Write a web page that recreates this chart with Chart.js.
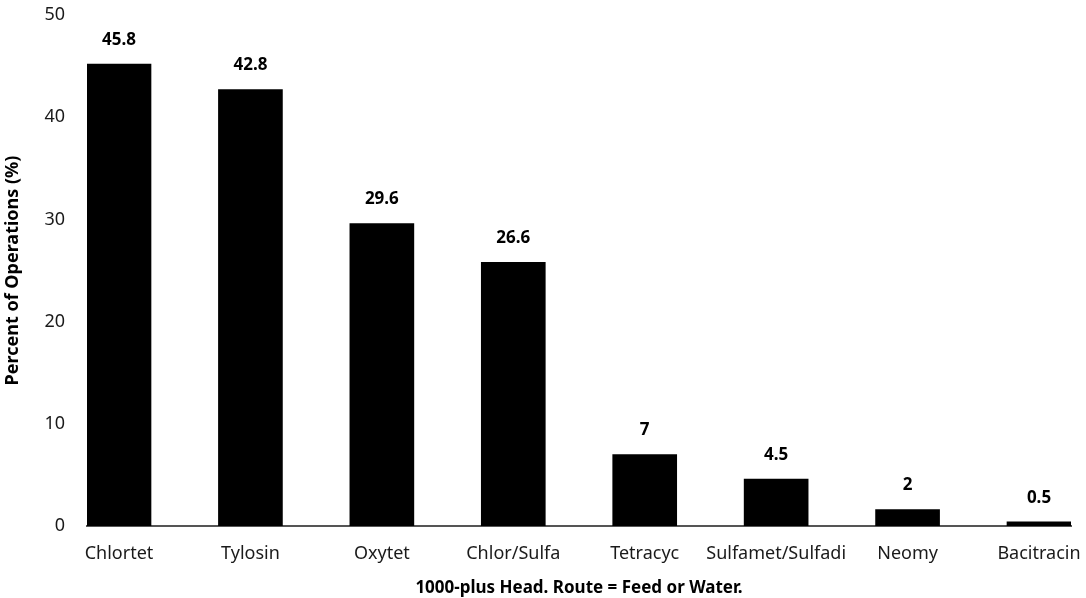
<!DOCTYPE html>
<html>
<head>
<meta charset="utf-8">
<script src="https://cdn.jsdelivr.net/npm/chart.js@4/dist/chart.umd.min.js"></script>
<style>
  html, body { margin: 0; padding: 0; background: #fff; }
  #wrap { width: 1086px; height: 598px; position: relative; }
</style>
</head>
<body>
<div id="wrap"><canvas id="c" width="1086" height="598"></canvas></div>
<script>
const categories = ["Chlortet", "Tylosin", "Oxytet", "Chlor/Sulfa", "Tetracyc", "Sulfamet/Sulfadi", "Neomy", "Bacitracin"];
const barValues = [45.2, 42.7, 29.6, 25.8, 7.0, 4.6, 1.6, 0.4];
const valueLabels = ["45.8", "42.8", "29.6", "26.6", "7", "4.5", "2", "0.5"];
const yTicks = [0, 10, 20, 30, 40, 50];
const xTitle = "1000-plus Head. Route = Feed or Water.";
const yTitle = "Percent of Operations (%)";

const FONT = "'Noto Sans', sans-serif";

const valueLabelPlugin = {
  id: 'valueLabels',
  afterDatasetsDraw(chart) {
    const ctx = chart.ctx;
    const meta = chart.getDatasetMeta(0);
    ctx.save();
    ctx.font = "bold 17px " + FONT;
    ctx.fillStyle = "#000";
    ctx.textAlign = "center";
    ctx.textBaseline = "middle";
    meta.data.forEach((el, i) => {
      ctx.fillText(valueLabels[i], el.x, el.y - 24);
    });
    ctx.restore();
  }
};

new Chart(document.getElementById('c'), {
  type: 'bar',
  data: {
    datasets: [{
      data: barValues.map((v, i) => ({ x: i, y: v })),
      backgroundColor: "#000",
      borderWidth: 0,
      barThickness: 64
    }]
  },
  options: {
    responsive: false,
    animation: false,
    layout: { padding: { left: 0, right: 15, top: 15, bottom: 0 } },
    plugins: { legend: { display: false }, tooltip: { enabled: false } },
    scales: {
      x: {
        type: 'linear',
        offset: false,
        min: -0.2435,
        max: 7.2435,
        grid: { display: false, drawTicks: false },
        border: { display: true, color: "#555", width: 2 },
        afterBuildTicks: (s) => { s.ticks = categories.map((c, i) => ({ value: i })); },
        ticks: {
          autoSkip: false,
          maxRotation: 0,
          padding: 17,
          color: "#1a1a1a",
          font: { family: FONT, size: 18 },
          callback: (v) => categories[v]
        },
        title: {
          display: true,
          text: xTitle,
          color: "#000",
          font: { family: FONT, size: 17, weight: 'bold' },
          padding: { top: 2, bottom: 0 }
        },
        afterFit: (s) => { s.height = 72; s.paddingLeft = 0; s.paddingRight = 0; }
      },
      y: {
        min: 0,
        max: 50,
        grid: { display: false, drawTicks: false },
        border: { display: false },
        afterBuildTicks: (s) => { s.ticks = yTicks.map(v => ({ value: v })); },
        ticks: {
          padding: 22,
          color: "#1a1a1a",
          font: { family: FONT, size: 18 }
        },
        title: {
          display: true,
          text: yTitle,
          color: "#000",
          font: { family: FONT, size: 18, weight: 'bold' },
          padding: { top: 2, bottom: 0 }
        },
        afterFit: (s) => { s.width = 87; s.paddingTop = 0; s.paddingBottom = 0; }
      }
    }
  },
  plugins: [valueLabelPlugin]
});
</script>
</body>
</html>
